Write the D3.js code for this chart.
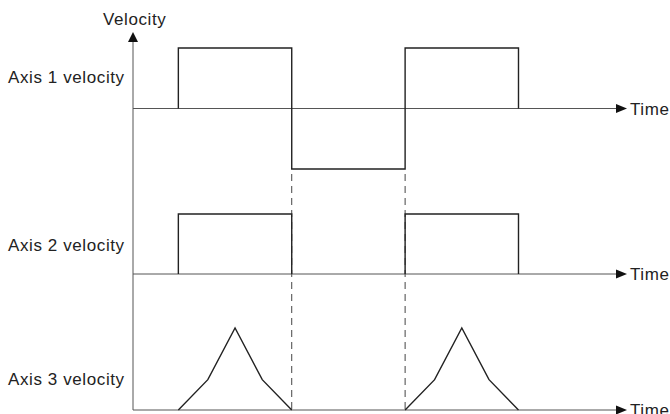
<!DOCTYPE html>
<html lang="en">
<head>
<meta charset="utf-8">
<script src="https://cdnjs.cloudflare.com/ajax/libs/d3/7.8.5/d3.min.js"></script>
<style>
  body { margin: 0; background: #fff; }
  text { font-family: "Liberation Sans", Arial, sans-serif; font-size: 17px; fill: #222; letter-spacing: 0.6px; }
</style>
</head>
<body>
<div id="chart"></div>
<script>
// time points (arbitrary units) and velocity levels for each axis; null = pen up
var axis1T = [1, 1, 3.5, 3.5, 6, 6, 8.5, 8.5];
var axis1V = [0, 1, 1, -1, -1, 1, 1, 0];
var axis2T = [1, 1, 3.5, 3.5, null, 6, 6, 8.5, 8.5];
var axis2V = [0, 1, 1, 0, null, 0, 1, 1, 0];
var axis3T = [1, 1.65, 2.25, 2.85, 3.5, null, 6, 6.65, 7.25, 7.85, 8.5];
var axis3V = [0, 0.37, 1, 0.37, 0, null, 0, 0.37, 1, 0.37, 0];
var labels = ["Axis 1 velocity", "Axis 2 velocity", "Axis 3 velocity"];
var dashT = [3.5, 6];

var width = 670, height = 414;

var svg = d3.select("#chart").append("svg")
    .attr("width", width)
    .attr("height", height);

var x = d3.scaleLinear().domain([0, 10.65]).range([133, 616]);
var y1 = d3.scaleLinear().domain([-1, 1]).range([169, 48]);
var y2 = d3.scaleLinear().domain([0, 1]).range([274, 214]);
var y3 = d3.scaleLinear().domain([0, 1]).range([410, 328]);

// vertical axis + arrow
svg.append("line")
    .attr("x1", x(0)).attr("x2", x(0))
    .attr("y1", 41).attr("y2", y3(0))
    .attr("stroke", "#555").attr("stroke-width", 1);
svg.append("path")
    .attr("d", "M" + x(0) + ",32 L" + (x(0) - 5) + ",42 L" + (x(0) + 5) + ",42 Z")
    .attr("fill", "#111");
svg.append("text")
    .attr("x", 103).attr("y", 25)
    .text("Velocity");

// horizontal time axes
var baselines = [y1(0), y2(0), y3(0)];
baselines.forEach(function(by, i) {
  svg.append("line")
      .attr("x1", x(0)).attr("x2", x.range()[1])
      .attr("y1", by).attr("y2", by)
      .attr("stroke", "#555").attr("stroke-width", 1);
  svg.append("path")
      .attr("d", "M" + (x.range()[1] + 11) + "," + by + " L" + x.range()[1] + "," + (by - 4.5) + " L" + x.range()[1] + "," + (by + 4.5) + " Z")
      .attr("fill", "#111");
  svg.append("text")
      .attr("x", 630).attr("y", by + 6)
      .text("Time");
});

// axis labels
var labelY = [83, 251, 385];
labels.forEach(function(l, i) {
  svg.append("text")
      .attr("x", 8).attr("y", labelY[i])
      .text(l);
});

// dashed guides
dashT.forEach(function(t) {
  svg.append("line")
      .attr("x1", x(t)).attr("x2", x(t))
      .attr("y1", y1(-1)).attr("y2", y3(0))
      .attr("stroke", "#444").attr("stroke-width", 1)
      .attr("stroke-dasharray", "7,5")
      .attr("stroke-dashoffset", -5);
});

// signals
function drawSignal(ts, vs, ys) {
  var line = d3.line()
      .defined(function(d, i) { return ts[i] != null; })
      .x(function(d, i) { return x(ts[i]); })
      .y(function(d, i) { return ys(vs[i]); });
  svg.append("path")
      .datum(ts)
      .attr("d", line)
      .attr("fill", "none")
      .attr("stroke", "#222")
      .attr("stroke-width", 1.4);
}
drawSignal(axis1T, axis1V, y1);
drawSignal(axis2T, axis2V, y2);
drawSignal(axis3T, axis3V, y3);
</script>
</body>
</html>
